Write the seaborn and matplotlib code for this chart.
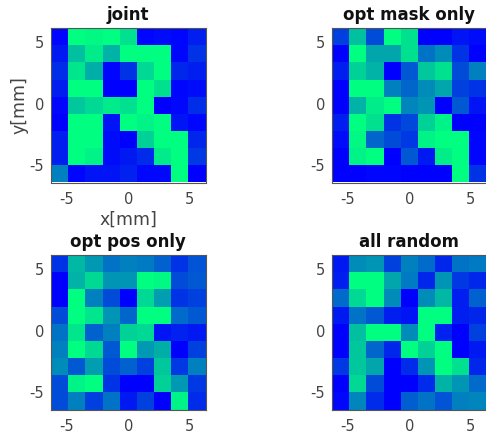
#!/usr/bin/env python3

import numpy as np
import matplotlib
matplotlib.use('Agg')
import matplotlib.pyplot as plt
import seaborn as sns

sns.set_theme(style='white')
plt.rcParams['font.family'] = ['DejaVu Sans']

titles = ['joint', 'opt mask only', 'opt pos only', 'all random']

# rows run from y=+5 (top) down to y=-5
joint = [
    [.02, 1, .97, 1, .88, .02, .05, .02, .12],
    [.10, .75, .92, .70, 1, 1, 1, .02, .20],
    [.18, .90, .68, .02, .20, .85, 1, .15, .12],
    [.12, 1, 1, 0, 0, 1, .88, .02, .05],
    [.03, .78, .85, .92, .88, 1, 0, .03, .18],
    [0, 1, 1, .08, 1, .95, 1, .08, .02],
    [.12, 1, 1, .05, 0, .82, 1, 1, .15],
    [.12, 1, .95, .05, .10, .17, .92, 1, .22],
    [.50, .02, .08, .08, .13, .03, .03, 1, 0],
]
opt_mask = [
    [.25, .75, .30, 1, .88, 0, 0, .08, .05],
    [0, 1, .65, .65, .88, .45, .55, .20, 0],
    [.12, .82, .70, 0, .35, .78, .88, .30, .50],
    [0, 1, 1, .50, .40, .55, .65, .25, .20],
    [0, .70, .92, 1, .52, .58, 0, .35, .08],
    [.12, 1, .88, .20, .28, .82, .95, 0, 0],
    [.05, .97, .40, .30, .22, .95, 1, 1, .02],
    [0, .95, 1, 0, .35, .10, .93, 1, .02],
    [0, 0, .02, .02, 0, 0, 0, 1, .20],
]
opt_pos = [
    [.20, .72, .60, .45, .50, .48, .38, .20, .33],
    [0, .70, .85, .58, .58, 1, .97, .30, .35],
    [0, 1, .50, .30, 0, .85, .62, .20, .25],
    [.30, 1, .90, .58, .40, 1, 1, .42, .35],
    [.45, .90, .38, .50, .82, .85, .08, .13, .10],
    [.50, 1, .85, .35, 1, .60, .68, 0, .25],
    [.55, .35, .62, .30, .38, .25, .78, .22, .50],
    [.30, .95, 1, .20, 0, 0, .82, .60, .22],
    [.30, .50, .25, .45, .10, .25, 0, .95, .17],
]
all_random = [
    [.10, .55, .58, .25, .50, .42, .15, .45, .48],
    [.12, 1, 1, .65, .48, .15, .58, .22, .15],
    [.42, .85, 1, .55, 0, .55, .72, .12, .38],
    [.10, .45, .35, .12, .08, 1, 1, .12, .15],
    [0, .75, 1, 1, .55, 1, .13, 0, .25],
    [0, .78, .40, .15, 1, .82, 1, 0, .10],
    [.22, .78, .65, 0, .17, .58, 1, .88, .15],
    [0, .85, .30, 0, 0, .17, .70, .58, .42],
    [.03, .52, .17, 0, .37, .45, .33, .50, .52],
]
panels = [joint, opt_mask, opt_pos, all_random]

tick_mm = [-5, 0, 5]
pitch = 1.4  # mm per pixel of the mask
grey = '#444444'

W, H = 486, 433
lefts = [51, 332, 51, 332]
tops = [28, 28, 255, 255]
size = 154.5

fig = plt.figure(figsize=(W/100, H/100), dpi=100)

for i, data in enumerate(panels):
    ax = fig.add_axes([lefts[i]/W, 1 - (tops[i] + size)/H, size/W, size/H])
    sns.heatmap(np.array(data), cmap='winter', vmin=0, vmax=1, cbar=False,
                square=True, ax=ax)
    ax.set_xticks([4.5 + t/pitch for t in tick_mm])
    ax.set_xticklabels(tick_mm, rotation=0)
    ax.set_yticks([4.5 - t/pitch for t in tick_mm])
    ax.set_yticklabels(tick_mm, rotation=0)
    ax.tick_params(axis='x', length=0, labelsize=10.5, colors=grey, pad=7)
    ax.tick_params(axis='y', length=0, labelsize=10.5, colors=grey, pad=5)
    for s in ax.spines.values():
        s.set_visible(True)
        s.set_color('#555555')
        s.set_linewidth(0.8)
    ax.set_title(titles[i], fontsize=12, fontweight='bold', color='#111111', pad=6)
    if i == 0:
        ax.set_xlabel('x[mm]', fontsize=12.5, color=grey, labelpad=2.5)
        ax.set_ylabel('y[mm]', fontsize=12.5, color=grey, labelpad=1)

fig.savefig('out.png', dpi=100)
